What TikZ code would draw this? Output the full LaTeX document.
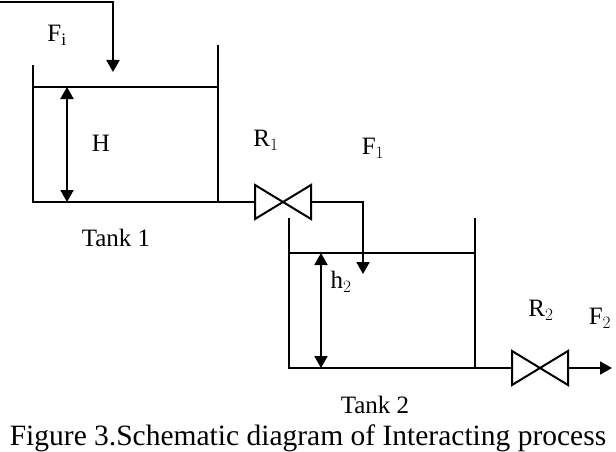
\documentclass[tikz,border=0pt]{standalone}
\usepackage{fontspec}
\setmainfont{Liberation Serif}
\usetikzlibrary{arrows.meta}
\begin{document}
\begin{tikzpicture}[x=1pt,y=-1pt,line width=2pt,
  lbl/.style={font=\fontsize{25}{27}\selectfont,inner sep=0pt},
  arr/.style={-{Triangle[length=12pt,width=13pt]}},
  dim/.style={{Triangle[length=12pt,width=13pt]}-{Triangle[length=12pt,width=13pt]}}]
\useasboundingbox (0,0) rectangle (616,452);
% tank 1
\coordinate (t1tl) at (33,65); \coordinate (t1bl) at (33,202);
\coordinate (t1tr) at (218,45); \coordinate (t1br) at (218,202);
\draw (t1tl) -- (t1bl) -- (t1br) -- (t1tr);
\draw (33,87) -- (218,87);
\coordinate (h1a) at (67,87); \coordinate (h1b) at (67,202);
\draw[dim] (h1a) -- (h1b);
\node[lbl] (H) at (101,143) {H};
\node[lbl] (tank1) at (116,238) {Tank 1};
% inlet
\coordinate (in0) at (0,2); \coordinate (in1) at (113,2); \coordinate (in2) at (113,72);
\draw[arr] (in0) -- (in1) -- (in2);
\node[lbl] (Fi) at (57,35) {F$_\mathrm{i}$};
% valve R1
\draw (t1br) -- (255,202);
\draw (255,185) -- (311,219) -- (311,185) -- (255,219) -- cycle;
\coordinate (p1) at (311,202); \coordinate (p2) at (363,202); \coordinate (p3) at (363,274);
\draw[arr] (p1) -- (p2) -- (p3);
\node[lbl] (R1) at (266,140) {R$_1$};
\node[lbl] (F1) at (373,148) {F$_1$};
% tank 2
\coordinate (t2tl) at (289,218); \coordinate (t2bl) at (289,368);
\coordinate (t2tr) at (475,218); \coordinate (t2br) at (475,368);
\draw (t2tl) -- (t2bl) -- (t2br) -- (t2tr);
\draw (289,253) -- (475,253);
\coordinate (h2a) at (321,253); \coordinate (h2b) at (321,368);
\draw[dim] (h2a) -- (h2b);
\node[lbl] (h2) at (341,282) {h$_2$};
\node[lbl] (tank2) at (375,405) {Tank 2};
% valve R2
\draw (t2br) -- (512,368);
\draw (512,351) -- (568,385) -- (568,351) -- (512,385) -- cycle;
\coordinate (o1) at (568,368); \coordinate (o2) at (612,368);
\draw[arr] (o1) -- (o2);
\node[lbl] (R2) at (541,310) {R$_2$};
\node[lbl] (F2) at (600,318) {F$_2$};
% caption
\node[font=\fontsize{29.5}{31}\selectfont,inner sep=0pt] (cap) at (308,438) {Figure 3.Schematic diagram of Interacting process};
\end{tikzpicture}
\end{document}
